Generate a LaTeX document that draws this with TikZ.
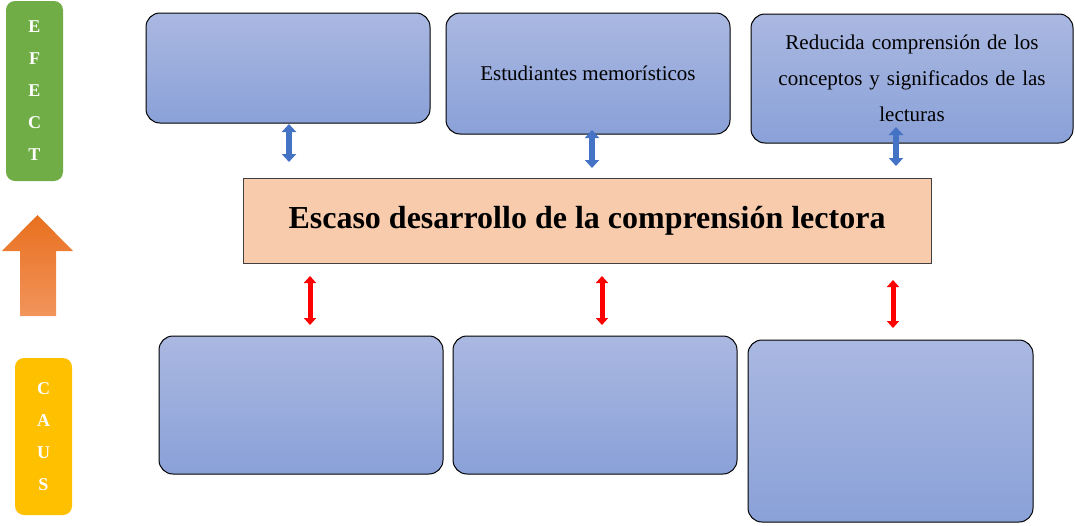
\documentclass[tikz,border=0pt]{standalone}
\usepackage{fontspec}
\setmainfont{Liberation Serif}
\usetikzlibrary{arrows.meta,calc}
\definecolor{boxtop}{HTML}{AAB8E1}
\definecolor{boxbot}{HTML}{8AA1D8}
\definecolor{peach}{HTML}{F8CBAD}
\definecolor{effgreen}{HTML}{70AD47}
\definecolor{causyellow}{HTML}{FFC000}
\definecolor{arrblue}{HTML}{4472C4}
\definecolor{arrblueline}{HTML}{2F5597}
\definecolor{orangetop}{HTML}{E8701E}
\definecolor{orangebot}{HTML}{F2945C}
\tikzset{
  bluebox/.style={draw=black, line width=1pt, rounded corners=14pt, top color=boxtop, bottom color=boxbot, inner sep=0pt, align=center, font=\fontsize{21}{36}\selectfont},
  sidebox/.style={rounded corners=9pt, inner sep=0pt, text=white, align=center, font=\bfseries\fontsize{18}{32}\selectfont},
  barrow/.style={draw=arrblue, line width=6pt, {Triangle[width=14pt,length=8pt]}-{Triangle[width=14pt,length=8pt]}},
  rarrow/.style={draw=red, line width=5pt, {Triangle[width=12pt,length=7pt]}-{Triangle[width=12pt,length=7pt]}},
}
\begin{document}
\begin{tikzpicture}[x=1pt,y=-1pt]
\useasboundingbox (0,0) rectangle (1075,525);
% side labels
\node[sidebox, fill=effgreen, minimum width=57pt, minimum height=180pt] (efect) at (34.5,91) {E\\F\\E\\C\\T};
\node[sidebox, fill=causyellow, minimum width=57pt, minimum height=157pt] (caus) at (43.5,436.5) {C\\A\\U\\S};
% orange up arrow
\shade[top color=orangetop, bottom color=orangebot] (20,316) -- (20,251) -- (2,251) -- (37.5,215) -- (73,251) -- (56,251) -- (56,316) -- cycle;
% top boxes
\node[bluebox, minimum width=284pt, minimum height=110pt] (t1) at (288,68) {};
\node[bluebox, minimum width=284pt, minimum height=121pt] (t2) at (588,73.5) {Estudiantes memorísticos};
\node[bluebox, minimum width=322pt, minimum height=129pt, text width=310pt] (t3) at (912,78.5) {Reducida comprensión de los\\conceptos y significados de las\\lecturas};
% central
\node[draw=black!75, line width=1pt, fill=peach, minimum width=688pt, minimum height=85pt, font=\bfseries\fontsize{32}{36}\selectfont] (c) at (587,220.5) {Escaso desarrollo de la comprensión lectora};
% bottom boxes
\node[bluebox, minimum width=284pt, minimum height=138pt] (b1) at (301,405) {};
\node[bluebox, minimum width=284pt, minimum height=138pt] (b2) at (595,405) {};
\node[bluebox, minimum width=285pt, minimum height=182pt] (b3) at (890.5,431) {};
% connector ends
\coordinate (ba1) at (289,124); \coordinate (bb1) at (289,162);
\coordinate (ba2) at (592,130); \coordinate (bb2) at (592,168);
\coordinate (ba3) at (896,127); \coordinate (bb3) at (896,166);
\coordinate (ra1) at (310,276); \coordinate (rb1) at (310,325);
\coordinate (ra2) at (602,276); \coordinate (rb2) at (602,325);
\coordinate (ra3) at (893,280); \coordinate (rb3) at (893,328);
\draw[barrow] (ba1) -- (bb1);
\draw[barrow] (ba2) -- (bb2);
\draw[barrow] (ba3) -- (bb3);
\draw[rarrow] (ra1) -- (rb1);
\draw[rarrow] (ra2) -- (rb2);
\draw[rarrow] (ra3) -- (rb3);
\end{tikzpicture}
\end{document}
